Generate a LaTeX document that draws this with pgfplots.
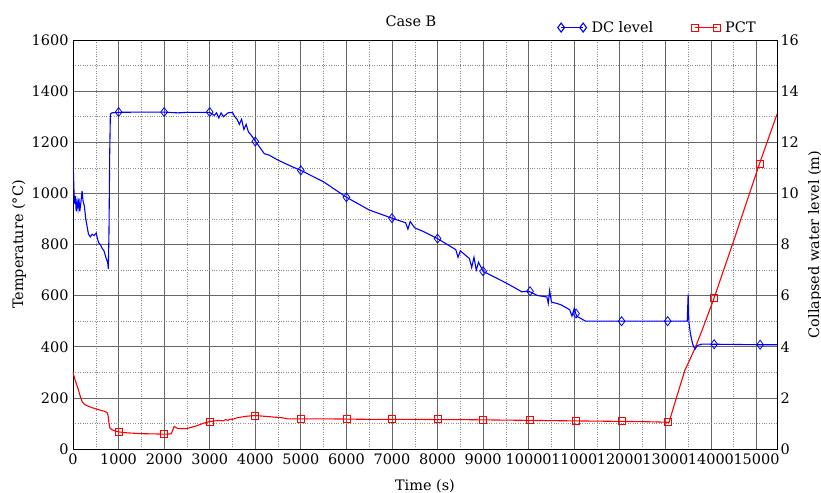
\documentclass[border=0pt]{standalone}
\usepackage{pgfplots}
\pgfplotsset{compat=1.18}
\usepackage{fontspec}
\setmainfont{DejaVu Serif}
\begin{document}
\begin{tikzpicture}[font=\fontsize{14.5}{17}\selectfont]
\path[use as bounding box] (-73bp,-44bp) rectangle (748bp,449bp);
\pgfplotsset{
  every axis/.append style={
    scale only axis, width=704bp, height=409bp,
    xmin=0, xmax=15450,
    scaled x ticks=false, scaled y ticks=false,
    /pgf/number format/assume math mode=true,
    /pgf/number format/1000 sep={},
    tick style={draw=none},
    ticklabel style={font=\fontsize{14.5}{17}\selectfont},
    label style={font=\fontsize{14.5}{17}\selectfont},
  }
}
\begin{axis}[
  at={(0,0)}, anchor=south west,
  ymin=0, ymax=1600,
  xtick distance=1000, ytick distance=200,
  minor x tick num=1, minor y tick num=1,
  grid=both,
  major grid style={draw=black!60, line width=0.7pt},
  minor grid style={draw=black!45, dotted, line width=0.5pt},
  xticklabel style={yshift=-1bp},
  yticklabel style={xshift=-1bp},
  xlabel={Time (s)},
  xlabel style={at={(axis description cs:0.5,0)}, anchor=base, yshift=-41bp},
  ylabel={Temperature (°C)},
  ylabel style={at={(axis description cs:-0.071,0.5)}, anchor=base, rotate=0},
  title={Case B},
  title style={at={(axis description cs:0.48,1)}, anchor=base, yshift=8bp, font=\fontsize{14.5}{17}\selectfont},
]
\addplot[red, line width=1.1pt, mark=none] coordinates {
(0,300)(30,280)(60,262)(100,242)(150,212)(200,185)(250,175)(300,170)(400,163)(500,157)(600,152)(700,147)(750,142)(770,130)(790,100)(810,82)(850,76)(900,72)(1000,67)(1200,63)(1500,60)(1800,59)(2000,58)(2150,59)(2180,70)(2220,88)(2260,84)(2300,80)(2500,80)(2700,90)(2900,103)(3000,107)(3200,112)(3300,110)(3350,115)(3400,112)(3450,117)(3500,116)(3600,122)(3800,128)(4000,131)(4200,128)(4400,125)(4600,122)(4700,118)(5000,118)(5500,118)(6000,117)(6500,116)(7000,116)(7500,116)(8000,115)(8500,115)(9000,114)(9500,113)(10000,112)(10500,111)(11000,110)(11500,109)(12000,108)(12500,107)(13000,105)(13080,104)(13250,205)(13430,309)(13500,335)(13650,394)(13800,462)(14060,586)(14500,815)(15050,1108)(15450,1310)
};
\addplot[red, only marks, mark=square, mark size=3.5bp, line width=0.8pt, forget plot] coordinates {
(1000,67)(2000,58)(3000,107)(4000,131)(5000,119)(6000,117)(7000,116)(8000,116)(9000,114)(10030,112)(11040,110)(12040,108)(13050,105)(14070,590)(15070,1115)
};
\end{axis}
\begin{axis}[
  at={(0,0)}, anchor=south west,
  ymin=0, ymax=16,
  axis y line*=right, axis x line=none,
  ytick distance=2,
  yticklabel style={xshift=0bp},
  ylabel={Collapsed water level (m)},
  ylabel style={at={(axis description cs:1.0597,0.5)}, anchor=base, rotate=0},
  legend columns=-1,
  legend style={draw=none, fill=none, at={(axis description cs:0.977,1)}, anchor=south east, yshift=2bp,
    font=\fontsize{14.5}{17}\selectfont,
    /tikz/every odd column/.append style={column sep=3bp},
    /tikz/every even column/.append style={column sep=36bp}},
]
\addplot[blue, line width=1.1pt, mark=none,
  legend image code/.code={\draw[blue, line width=1.1pt, mark=diamond, mark size=4.5bp] plot coordinates {(0bp,0bp)(22bp,0bp)};}] coordinates {
(0,11.4)(15,10.5)(30,9.6)(50,9.9)(70,9.3)(90,9.7)(110,9.4)(130,9.8)(150,9.3)(170,9.6)(200,10.1)(220,9.7)(250,9.5)(280,9.0)(310,8.7)(340,8.4)(380,8.3)(420,8.4)(460,8.35)(510,8.45)(540,8.2)(570,8.05)(600,8.0)(640,7.85)(680,7.75)(720,7.5)(760,7.3)(775,7.05)(790,8.5)(805,11.5)(820,13.1)(850,13.15)(1000,13.17)(1500,13.18)(2000,13.18)(2300,13.15)(2500,13.17)(3000,13.17)(3100,13.05)(3150,13.15)(3200,12.95)(3250,13.15)(3300,13.0)(3400,13.15)(3500,13.17)(3550,13.0)(3600,12.9)(3650,12.7)(3700,12.9)(3750,12.5)(3800,12.7)(3850,12.4)(3900,12.3)(4000,12.05)(4100,11.8)(4200,11.55)(4300,11.5)(4500,11.3)(4800,11.05)(5000,10.9)(5500,10.45)(6000,9.85)(6500,9.35)(7000,9.03)(7300,8.85)(7350,8.6)(7400,8.9)(7500,8.65)(7700,8.5)(8000,8.23)(8400,7.8)(8450,7.5)(8500,7.75)(8700,7.45)(8750,7.1)(8800,7.5)(8850,7.0)(8900,7.3)(9000,6.95)(9500,6.5)(9850,6.15)(10000,6.17)(10200,6.0)(10400,5.95)(10430,5.7)(10460,6.2)(10500,5.75)(10700,5.65)(10900,5.45)(10950,5.2)(11000,5.5)(11050,5.2)(11100,5.15)(11250,5.0)(12000,5.0)(13000,5.0)(13480,5.0)(13500,6.05)(13515,5.0)(13550,4.5)(13600,4.1)(13650,3.9)(13700,4.05)(13800,4.1)(14000,4.1)(15000,4.08)(15450,4.08)
};
\addlegendentry{DC level}
\addplot[blue, only marks, mark=diamond, mark size=4.5bp, line width=0.8pt, forget plot] coordinates {
(1000,13.18)(2000,13.18)(3000,13.18)(4000,12.03)(5000,10.9)(6000,9.85)(7000,9.03)(8000,8.23)(9000,6.95)(10030,6.17)(11040,5.3)(12040,5.0)(13050,5.0)(14070,4.1)(15080,4.08)
};
\addlegendimage{legend image code/.code={\draw[red, line width=1.1pt, mark=square, mark size=3.5bp] plot coordinates {(0bp,0bp)(22bp,0bp)};}}
\addlegendentry{PCT}
\end{axis}
\end{tikzpicture}
\end{document}
